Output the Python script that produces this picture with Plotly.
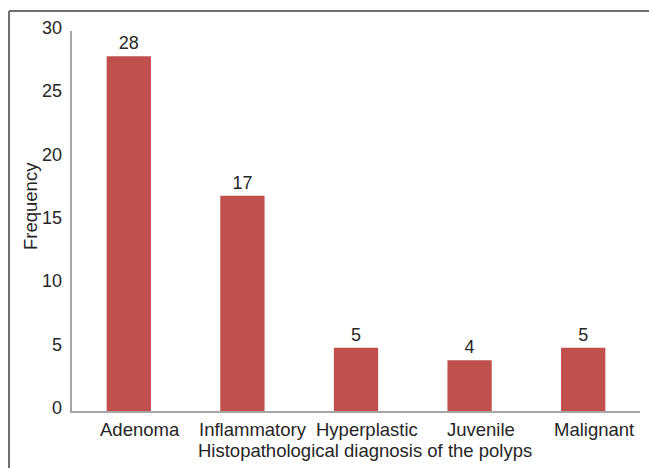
import plotly.graph_objects as go

categories = ["Adenoma", "Inflammatory", "Hyperplastic", "Juvenile", "Malignant"]
frequency = [28, 17, 5, 4, 5]
y_ticks = [0, 5, 10, 15, 20, 25, 30]

W, H = 649, 468
ML, MR, MT, MB = 72, 9, 31, 57
plot_w = W - ML - MR
plot_h = H - MT - MB

def px_x(px):
    return (px - ML) / plot_w

def px_y(py):
    return (H - MB - py) / plot_h

family = "Liberation Sans, Arial, sans-serif"
ink = "#262626"
num_font = dict(family=family, size=18, color=ink)
txt_font = dict(family=family, size=18.5, color=ink)

fig = go.Figure(
    go.Bar(
        x=categories,
        y=frequency,
        marker=dict(color="#c0504d", line=dict(width=0)),
        width=0.39,
        text=[str(v) for v in frequency],
        textposition="outside",
        textfont=num_font,
        cliponaxis=False,
    )
)

# Category labels sit slightly to the right of the bar centres
cat_labels = [
    dict(text=c, x=c, xref="x", yref="paper", y=px_y(429), xshift=11,
         showarrow=False, font=txt_font, xanchor="center", yanchor="middle")
    for c in categories
]

# Value-axis labels, nudged a little above their tick positions
val_labels = [
    dict(text=str(v), x=0, xref="paper", y=v, yref="y", xshift=-8, yshift=3,
         showarrow=False, font=num_font, xanchor="right", yanchor="middle")
    for v in y_ticks
]

fig.update_layout(
    width=W,
    height=H,
    margin=dict(l=ML, r=MR, t=MT, b=MB),
    paper_bgcolor="white",
    plot_bgcolor="white",
    font=txt_font,
    showlegend=False,
    xaxis=dict(
        showline=True,
        linecolor="#a6a6a6",
        linewidth=1.5,
        ticks="",
        showgrid=False,
        showticklabels=False,
    ),
    yaxis=dict(
        range=[0, 30],
        tickvals=y_ticks,
        showline=True,
        linecolor="#a6a6a6",
        linewidth=1.5,
        ticks="",
        showgrid=False,
        zeroline=False,
        showticklabels=False,
    ),
    annotations=cat_labels + val_labels + [
        dict(text="Histopathological diagnosis of the polyps", xref="paper", yref="paper",
             x=px_x(364.5), y=px_y(451), showarrow=False, font=txt_font,
             xanchor="center", yanchor="middle"),
        dict(text="Frequency", xref="paper", yref="paper",
             x=px_x(30), y=px_y(206), showarrow=False, font=txt_font,
             textangle=-90, xanchor="center", yanchor="middle"),
    ],
    shapes=[
        dict(type="line", xref="paper", yref="paper",
             x0=px_x(9), x1=px_x(660), y0=px_y(11), y1=px_y(11),
             line=dict(color="#6f6f6f", width=2)),
        dict(type="line", xref="paper", yref="paper",
             x0=px_x(9), x1=px_x(9), y0=px_y(11), y1=px_y(480),
             line=dict(color="#6f6f6f", width=2)),
    ],
)

fig.write_html("out.html")
